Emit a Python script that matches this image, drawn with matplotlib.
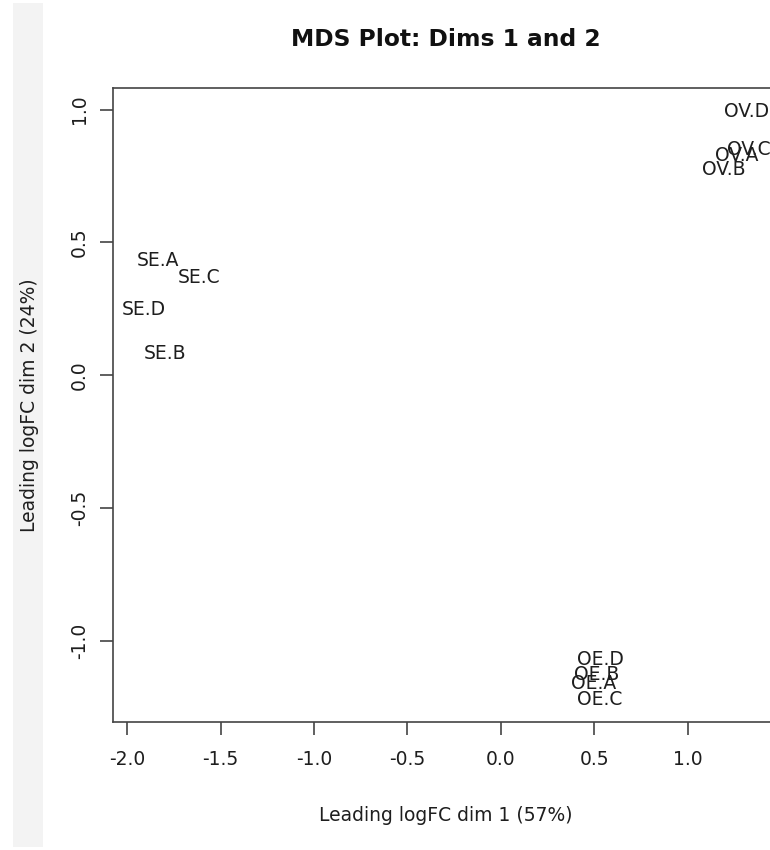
import matplotlib.pyplot as plt
from matplotlib.patches import Rectangle

# sample labels and their MDS coordinates
samples = ['SE.A', 'SE.C', 'SE.D', 'SE.B',
           'OV.D', 'OV.C', 'OV.A', 'OV.B',
           'OE.D', 'OE.B', 'OE.A', 'OE.C']
dim1 = [-1.834, -1.615, -1.909, -1.797,
        1.316, 1.325, 1.262, 1.192,
        0.533, 0.512, 0.496, 0.527]
dim2 = [0.432, 0.368, 0.248, 0.083,
        0.992, 0.851, 0.828, 0.774,
        -1.068, -1.128, -1.161, -1.222]

# 1.5 tick falls just outside the cropped screenshot
xticks = [-2.0, -1.5, -1.0, -0.5, 0.0, 0.5, 1.0]
yticks = [-1.0, -0.5, 0.0, 0.5, 1.0]

ink = '#1e1e1e'
plt.rcParams['font.family'] = 'DejaVu Sans'

fig = plt.figure(figsize=(7.7, 8.5), dpi=100)
# faint grey strip on the left edge of the screenshot, behind everything
fig.patches.append(Rectangle((13 / 770, 0.003), 30 / 770, 0.994,
                             transform=fig.transFigure, facecolor='#f3f3f3',
                             edgecolor='none', zorder=-10))

# plot box: 113..779 px wide, 88..722 px tall
ax = fig.add_axes([113 / 770, 128 / 850, 666 / 770, 634 / 850])
ax.set_facecolor('none')

for lab, x, y in zip(samples, dim1, dim2):
    ax.text(x, y, lab, ha='center', va='center', fontsize=13.5, color=ink)

ax.set_xlim(-2.075, 1.487)
ax.set_ylim(-1.305, 1.081)
ax.set_xticks(xticks)
ax.set_xticklabels(['%.1f' % t for t in xticks])
ax.set_yticks(yticks)
ax.set_yticklabels(['%.1f' % t for t in yticks], rotation=90, va='center')

for s in ax.spines.values():
    s.set_color('#444444')
    s.set_linewidth(1.2)
ax.tick_params(direction='out', length=9.5, width=1.2, color='#444444',
               labelsize=13.5, labelcolor=ink)
ax.tick_params(axis='x', pad=11)
ax.tick_params(axis='y', pad=8)

ax.set_xlabel('Leading logFC dim 1 (57%)', fontsize=13.5, color=ink, labelpad=26)
ax.set_ylabel('Leading logFC dim 2 (24%)', fontsize=13.5, color=ink, labelpad=22)
ax.set_title('MDS Plot: Dims 1 and 2', fontsize=16.8, fontweight='bold',
             color='#111111', pad=30)

fig.savefig('out.png', dpi=100)
